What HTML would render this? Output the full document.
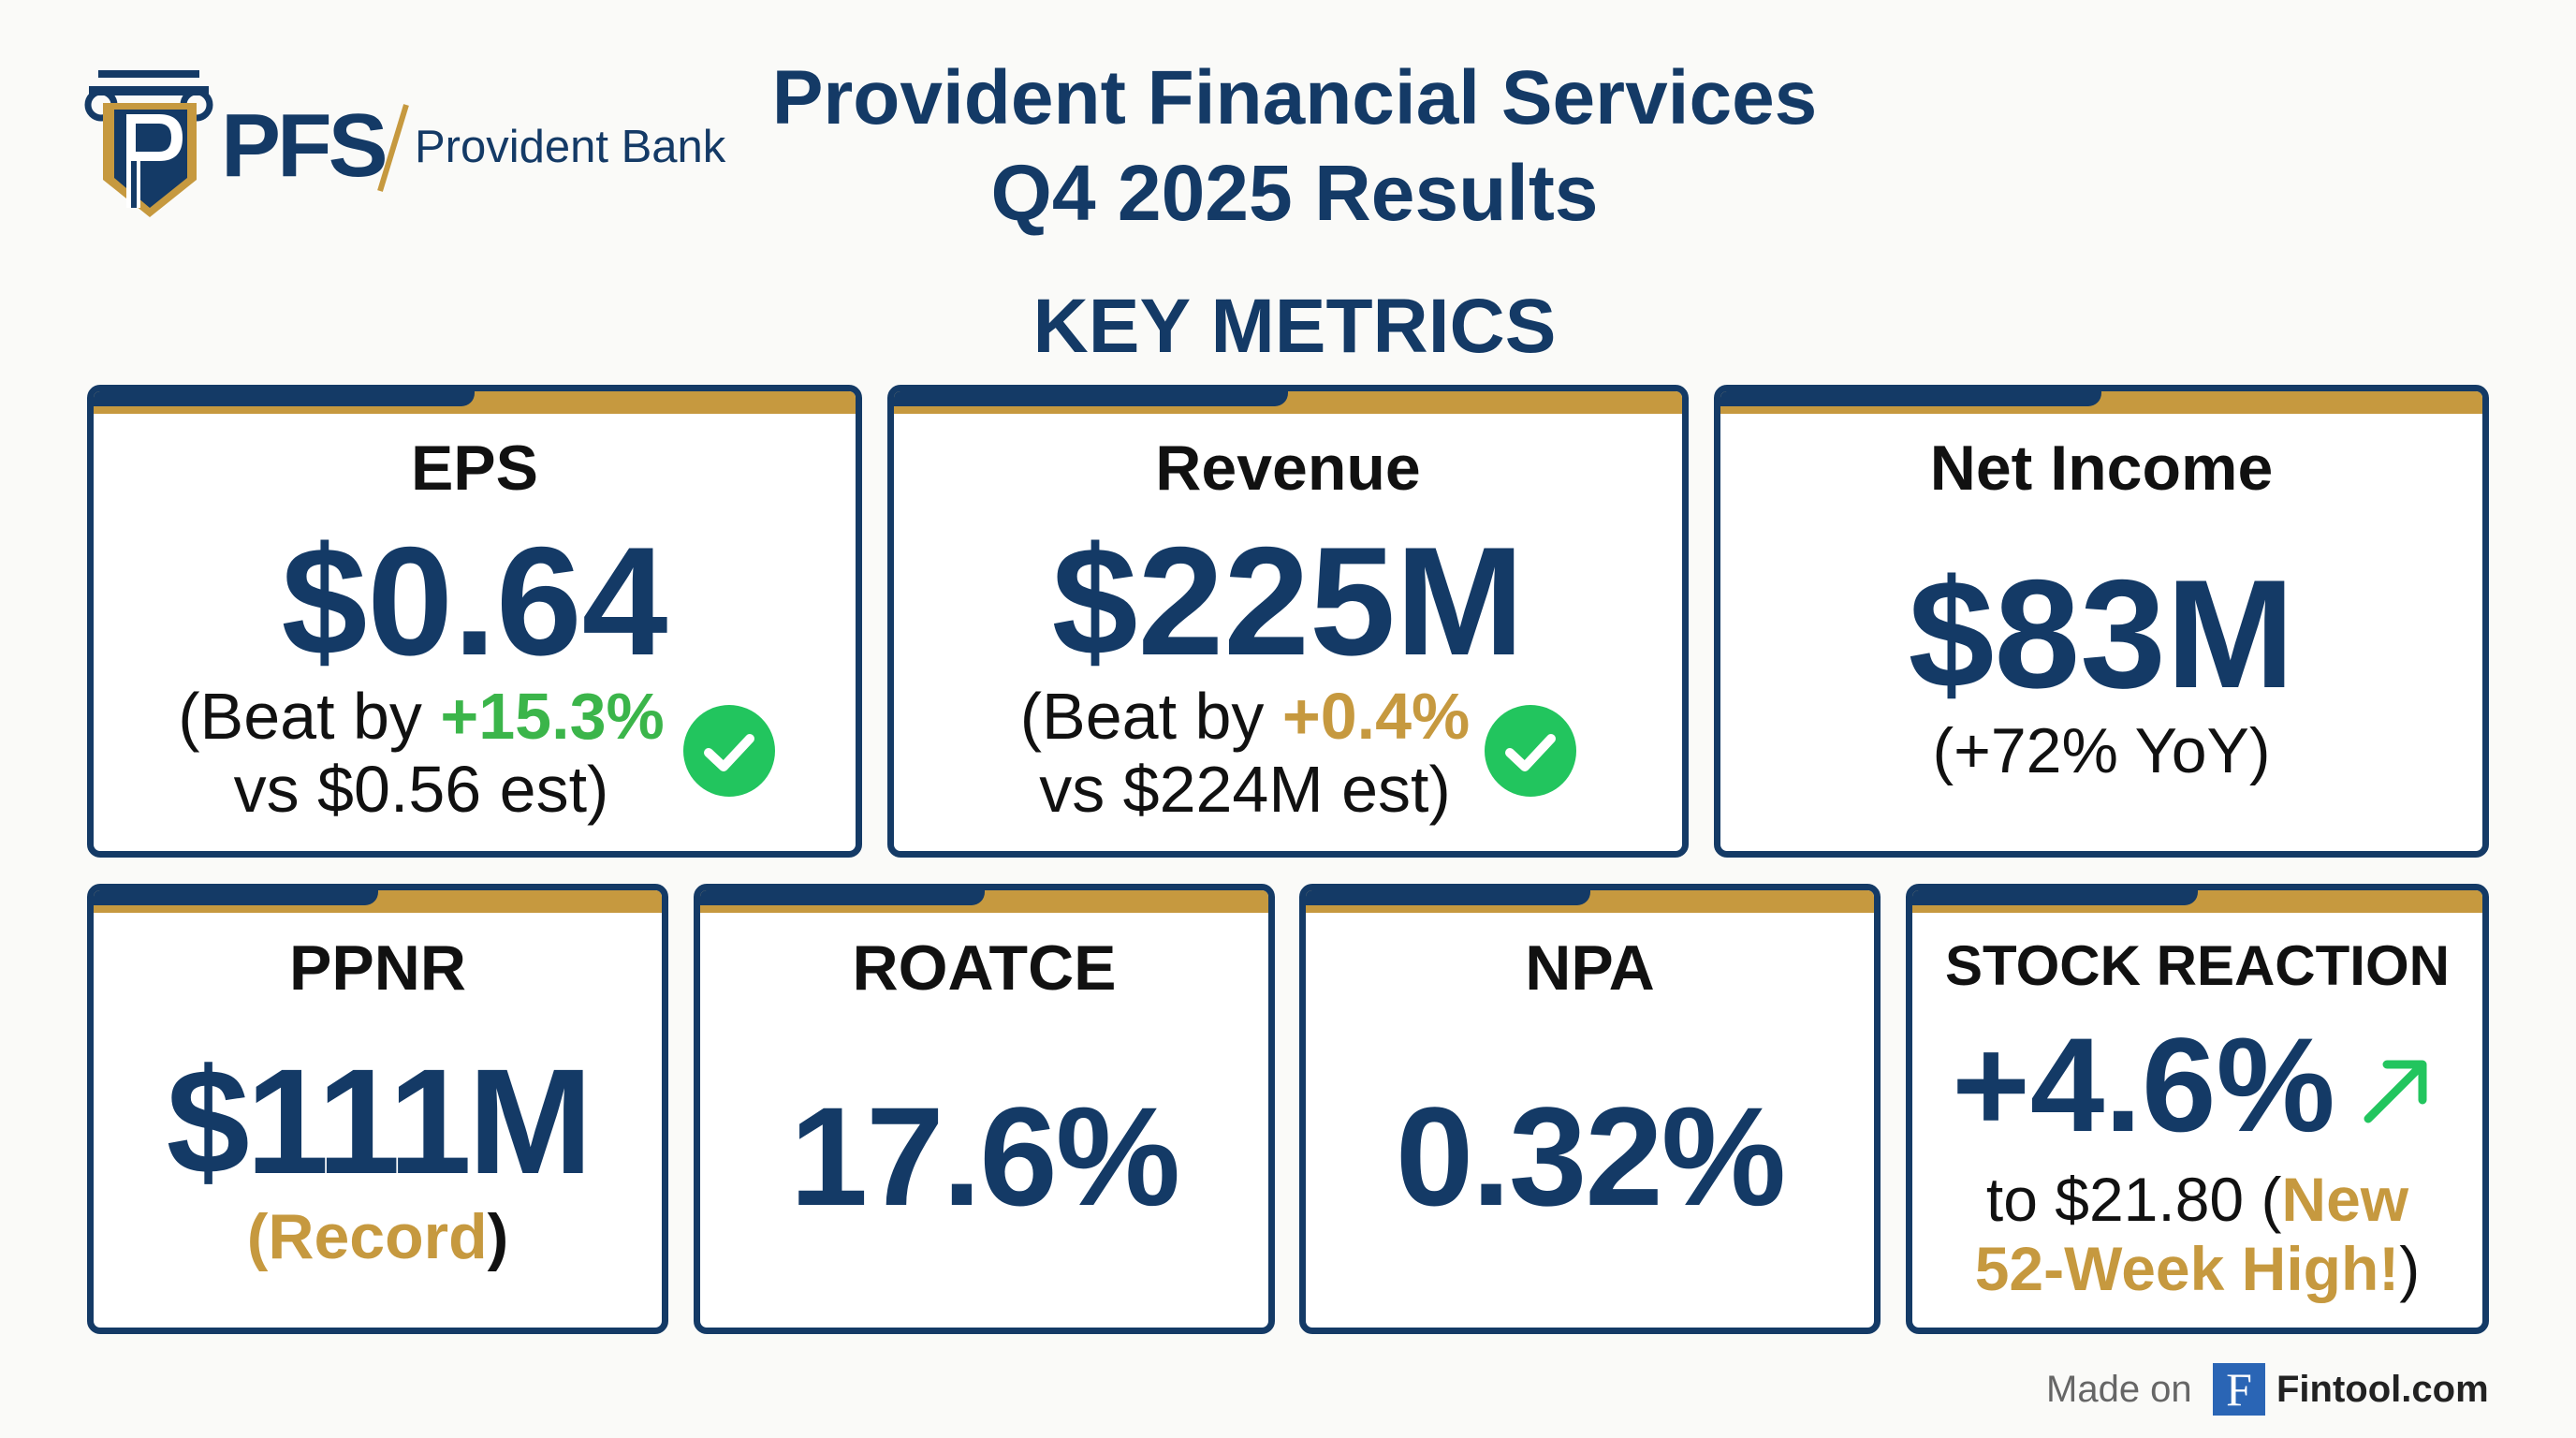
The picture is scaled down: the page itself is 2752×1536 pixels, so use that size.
<!DOCTYPE html>
<html><head><meta charset="utf-8"><style>
*{margin:0;padding:0;box-sizing:border-box}
body{width:2752px;height:1536px;background:#fafaf8;position:relative;overflow:hidden;font-family:"Liberation Sans",Arial,sans-serif}
.t{position:absolute;text-align:center;line-height:1;white-space:nowrap}
.card{position:absolute;background:#fff;border:7px solid #143a66;border-radius:14px;overflow:hidden}
.card .gold{position:absolute;left:0;right:0;top:0;height:24px;background:#c6993f}
.card .navy{position:absolute;left:0;top:0;width:50%;height:16px;background:#143a66;border-bottom-right-radius:14px}
.navyc{color:#143a66}
.b{font-weight:bold}
</style></head><body>

<!-- logo -->
<svg style="position:absolute;left:90px;top:72px" width="140" height="165" viewBox="0 0 140 165">
 <rect x="15" y="3" width="108" height="8" fill="#143a66"/>
 <path d="M5 20 H133 V30 H5 Z" fill="#143a66"/>
 <circle cx="18" cy="40" r="14" fill="none" stroke="#143a66" stroke-width="7"/>
 <circle cx="120" cy="40" r="14" fill="none" stroke="#143a66" stroke-width="7"/>
 <path d="M20 38 H120 V120 L70 160 L20 120 Z" fill="#c6993f"/>
 <path d="M32 45 H110 V118 L70 150 L32 118 Z" fill="#143a66"/>
 <path d="M45 50 H80 Q105 50 105 75 Q105 100 80 100 H60 V150 H45 Z" fill="#fff"/>
 <path d="M55 60 H80 Q93 60 93 75 Q93 90 80 90 H55 Z" fill="#143a66"/>
 <rect x="50" y="100" width="6" height="50" fill="#143a66"/>
</svg>
<div class="t b navyc" style="left:236px;top:108px;font-size:96px;letter-spacing:-4px">PFS</div>
<svg style="position:absolute;left:400px;top:108px" width="40" height="100"><line x1="34" y1="4" x2="6" y2="96" stroke="#c6993f" stroke-width="6"/></svg>
<div class="t navyc" style="left:443px;top:133px;font-size:49px">Provident Bank</div>

<!-- title -->
<div class="t b navyc" style="left:700px;width:1366px;top:64px;font-size:82px">Provident Financial Services</div>
<div class="t b navyc" style="left:700px;width:1366px;top:164px;font-size:84px">Q4 2025 Results</div>
<div class="t b navyc" style="left:700px;width:1366px;top:308px;font-size:82px">KEY METRICS</div>

<!-- top cards -->
<div class="card" style="left:93px;top:411px;width:828px;height:505px"><div class="gold"></div><div class="navy"></div></div>
<div class="card" style="left:948px;top:411px;width:856px;height:505px"><div class="gold"></div><div class="navy"></div></div>
<div class="card" style="left:1831px;top:411px;width:828px;height:505px"><div class="gold"></div><div class="navy"></div></div>

<div class="t b" style="left:93px;width:828px;top:466px;font-size:68px;color:#111">EPS</div>
<div class="t b navyc" style="left:93px;width:828px;top:560px;font-size:165px">$0.64</div>
<div class="t" style="left:160px;width:580px;top:730px;font-size:70px;color:#111">(Beat by <span class="b" style="color:#3bb54a">+15.3%</span></div>
<div class="t" style="left:160px;width:580px;top:808px;font-size:70px;color:#111">vs $0.56 est)</div>
<svg style="position:absolute;left:730px;top:753px" width="98" height="98"><circle cx="49" cy="49" r="49" fill="#22c55e"/><path d="M27 51 L43 66 L71 36" fill="none" stroke="#fff" stroke-width="10" stroke-linecap="round" stroke-linejoin="round"/></svg>

<div class="t b" style="left:948px;width:856px;top:466px;font-size:68px;color:#111">Revenue</div>
<div class="t b navyc" style="left:948px;width:856px;top:560px;font-size:165px">$225M</div>
<div class="t" style="left:1020px;width:620px;top:730px;font-size:70px;color:#111">(Beat by <span class="b" style="color:#c6993f">+0.4%</span></div>
<div class="t" style="left:1020px;width:620px;top:808px;font-size:70px;color:#111">vs $224M est)</div>
<svg style="position:absolute;left:1586px;top:753px" width="98" height="98"><circle cx="49" cy="49" r="49" fill="#22c55e"/><path d="M27 51 L43 66 L71 36" fill="none" stroke="#fff" stroke-width="10" stroke-linecap="round" stroke-linejoin="round"/></svg>

<div class="t b" style="left:1831px;width:828px;top:466px;font-size:68px;color:#111">Net Income</div>
<div class="t b navyc" style="left:1831px;width:828px;top:595px;font-size:165px">$83M</div>
<div class="t" style="left:1831px;width:828px;top:768px;font-size:68px;color:#111">(+72% YoY)</div>

<!-- bottom cards -->
<div class="card" style="left:93px;top:944px;width:621px;height:481px"><div class="gold"></div><div class="navy"></div></div>
<div class="card" style="left:741px;top:944px;width:621px;height:481px"><div class="gold"></div><div class="navy"></div></div>
<div class="card" style="left:1388px;top:944px;width:621px;height:481px"><div class="gold"></div><div class="navy"></div></div>
<div class="card" style="left:2036px;top:944px;width:623px;height:481px"><div class="gold"></div><div class="navy"></div></div>

<div class="t b" style="left:93px;width:621px;top:1000px;font-size:68px;color:#111">PPNR</div>
<div class="t b navyc" style="left:93px;width:621px;top:1118px;font-size:160px;letter-spacing:-4px">$111M</div>
<div class="t b" style="left:93px;width:621px;top:1287px;font-size:68px;color:#c6993f">(Record<span style="color:#111">)</span></div>

<div class="t b" style="left:741px;width:621px;top:1000px;font-size:68px;color:#111">ROATCE</div>
<div class="t b navyc" style="left:741px;width:621px;top:1160px;font-size:150px;letter-spacing:-2px">17.6%</div>

<div class="t b" style="left:1388px;width:621px;top:1000px;font-size:68px;color:#111">NPA</div>
<div class="t b navyc" style="left:1388px;width:621px;top:1160px;font-size:150px;letter-spacing:-2px">0.32%</div>

<div class="t b" style="left:2036px;width:623px;top:1002px;font-size:60px;color:#111">STOCK REACTION</div>
<div class="t b navyc" style="left:2080px;width:420px;top:1088px;font-size:143px">+4.6%</div>
<svg style="position:absolute;left:2520px;top:1125px" width="80" height="80"><path d="M10 70 L68 12 M30 12 H68 V50" fill="none" stroke="#22c55e" stroke-width="9" stroke-linecap="round" stroke-linejoin="round"/></svg>
<div class="t" style="left:2036px;width:623px;top:1248px;font-size:66px;color:#111">to $21.80 (<span class="b" style="color:#c6993f">New</span></div>
<div class="t" style="left:2036px;width:623px;top:1322px;font-size:66px;color:#111"><span class="b" style="color:#c6993f">52-Week High!</span>)</div>

<!-- footer -->
<div class="t" style="left:2186px;top:1464px;font-size:40px;color:#666">Made on</div>
<div style="position:absolute;left:2364px;top:1456px;width:56px;height:56px;background:#2a65b5;color:#fff;font-family:'Liberation Serif',serif;font-size:50px;line-height:56px;text-align:center">F</div>
<div class="t b" style="left:2432px;top:1464px;font-size:40px;color:#222">Fintool.com</div>
</body></html>
